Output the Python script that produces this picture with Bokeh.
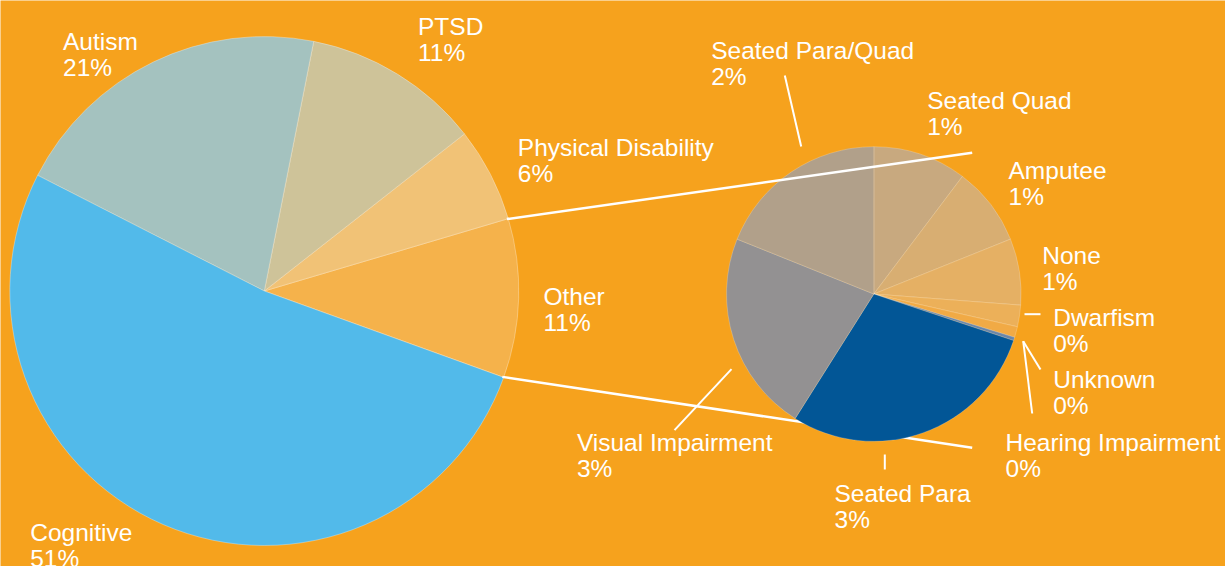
import math
from bokeh.plotting import figure
from bokeh.models import ColumnDataSource, Range1d
from bokeh.embed import file_html
from bokeh.resources import INLINE
from bokeh.core.properties import value

# ---------------- data ----------------
big_names = ["Other", "Physical Disability", "PTSD", "Autism", "Cognitive"]
big_values = [10.1, 6.0, 11.3, 20.6, 52.0]
big_pct = ["11%", "6%", "11%", "21%", "51%"]

small_names = ["Seated Quad", "Amputee", "None", "Dwarfism", "Unknown",
               "Hearing Impairment", "Seated Para", "Visual Impairment", "Seated Para/Quad"]
small_values = [1.13, 0.95, 0.80, 0.26, 0.13, 0.04, 3.17, 2.43, 2.08]
small_pct = ["1%", "1%", "1%", "0%", "0%", "0%", "3%", "3%", "2%"]

# ---------------- styles / layout ----------------
BG = "#F6A21D"
big_colors = ["#F5B24B", "#F1C276", "#CEC399", "#A4C2BF", "#52BAEA"]
small_colors = ["#C8A97F", "#D8AE72", "#E5B064", "#ECB059", "#F1AA45",
                "#6B86A8", "#025696", "#939192", "#B1A08A"]

BIG_C = (263.8, 290.5)
BIG_R = 254.5
BIG_START = -19.84  # degrees, start of first slice, anticlockwise
SMALL_C = (873.3, 293.5)
SMALL_R = 147.3
SMALL_START = 90.0  # degrees, slices go clockwise

# label positions: (left x, cap-top y) in page pixels
big_label_pos = [(543, 287), (517.3, 138.3), (417.5, 17.3), (62.5, 31.7), (29.7, 523.3)]
small_label_pos = [(926.7, 91), (1008, 161), (1041.7, 246), (1052.7, 307.7), (1052.7, 370),
                   (1005, 433.3), (834, 484.3), (576.4, 433.3), (710.7, 40.7)]

leaders = [
    ((784.3, 75), (800.7, 146)),      # Seated Para/Quad
    ((731, 368.6), (674, 429.6)),     # Visual Impairment
    ((884.3, 454), (884.3, 469)),     # Seated Para
    ((1024, 313.7), (1040, 313.7)),   # Dwarfism
    ((1040, 369), (1022.7, 340.7)),   # Unknown
    ((1031.7, 413), (1022.7, 340.7)), # Hearing Impairment
]
series_ends = [(971.7, 152.3), (971.7, 447.3)]

W, H = 1225, 566
FONT = "Liberation Sans"
FS = 24.5
CAP = 0.716 * FS
TEXT_DY = -8.5
LINE_GAP = 26

p = figure(width=W, height=H, output_backend="svg", toolbar_location=None,
           x_range=Range1d(0, W), y_range=Range1d(-H, 0),
           x_axis_location=None, y_axis_location=None, title=None,
           min_border=0, min_border_left=0, min_border_right=0,
           min_border_top=0, min_border_bottom=0)
p.background_fill_color = BG
p.border_fill_color = BG
p.outline_line_color = None
p.grid.visible = False


def wedges(values, start_deg, clockwise):
    total = sum(values)
    starts, ends = [], []
    a = start_deg
    for v in values:
        span = v / total * 360.0
        if clockwise:
            s, e = a - span, a
            a = a - span
        else:
            s, e = a, a + span
            a = a + span
        starts.append(math.radians(s))
        ends.append(math.radians(e))
    return starts, ends


# big pie
bs, be = wedges(big_values, BIG_START, clockwise=False)
big_src = ColumnDataSource(dict(name=big_names, start=bs, end=be, color=big_colors))
p.wedge(x=BIG_C[0], y=-BIG_C[1], radius=BIG_R, start_angle="start", end_angle="end",
        fill_color="color", line_color="#FFFFFF", line_alpha=0.3, line_width=1,
        source=big_src)

# series lines from the "Other" slice edges
other_start, other_end = bs[0], be[0]
r_in = BIG_R - 1.5
upper_start = (BIG_C[0] + r_in * math.cos(other_end), BIG_C[1] - r_in * math.sin(other_end))
lower_start = (BIG_C[0] + r_in * math.cos(other_start), BIG_C[1] - r_in * math.sin(other_start))

# lower line drawn behind the small pie
p.line([lower_start[0], series_ends[1][0]], [-lower_start[1], -series_ends[1][1]],
       line_color="white", line_width=2.5)

# small pie
ss, se = wedges(small_values, SMALL_START, clockwise=True)
small_src = ColumnDataSource(dict(name=small_names, start=ss, end=se, color=small_colors))
p.wedge(x=SMALL_C[0], y=-SMALL_C[1], radius=SMALL_R, start_angle="start", end_angle="end",
        fill_color="color", line_color="#FFFFFF", line_alpha=0.25, line_width=0.8,
        source=small_src)

# upper line drawn on top of the small pie
p.line([upper_start[0], series_ends[0][0]], [-upper_start[1], -series_ends[0][1]],
       line_color="white", line_width=2.5)

# leader lines
p.multi_line(xs=[[a[0], b[0]] for a, b in leaders],
             ys=[[-a[1], -b[1]] for a, b in leaders],
             line_color="white", line_width=2)

# labels
names = big_names + small_names
pcts = big_pct + small_pct
pos = big_label_pos + small_label_pos
lx = [q[0] for q in pos]
ly1 = [-(q[1] + CAP + TEXT_DY) for q in pos]
ly2 = [-(q[1] + CAP + TEXT_DY + LINE_GAP) for q in pos]
p.text(x=lx, y=ly1, text=names, text_font=value(FONT), text_font_size=f"{FS}px",
       text_color="white", text_baseline="alphabetic", text_align="left")
p.text(x=lx, y=ly2, text=pcts, text_font=value(FONT), text_font_size=f"{FS}px",
       text_color="white", text_baseline="alphabetic", text_align="left")

open("out.html", "w").write(file_html(p, INLINE))
